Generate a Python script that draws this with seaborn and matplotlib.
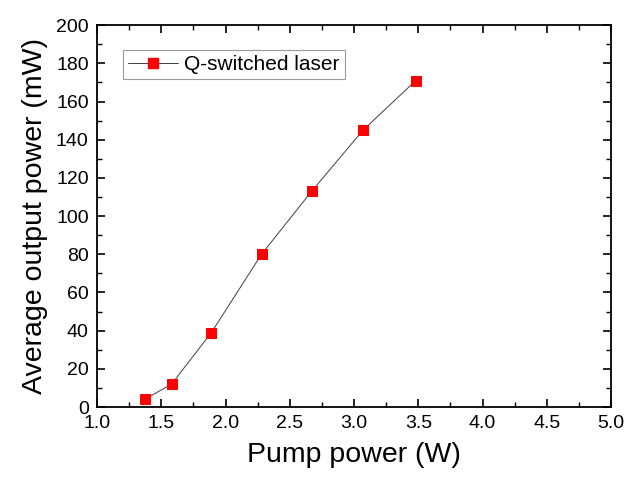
import matplotlib
matplotlib.use("Agg")
import matplotlib.pyplot as plt
import seaborn as sns
import pandas as pd
from matplotlib.ticker import MultipleLocator

pump_power = [1.37, 1.58, 1.89, 2.28, 2.67, 3.07, 3.48]
output_power = [4, 12, 39, 80, 113, 145, 171]
series_name = "Q-switched laser"

df = pd.DataFrame({"x": pump_power, "y": output_power, "s": series_name})

sns.set_theme(style="ticks")
plt.rcParams['font.family'] = ['Liberation Sans', 'DejaVu Sans']
plt.rcParams['text.color'] = 'black'
plt.rcParams['axes.labelcolor'] = 'black'

fig = plt.figure(figsize=(6.3, 4.84), dpi=100)
ax = fig.add_axes([0.154, 0.159, 0.816, 0.789])

sns.lineplot(data=df, x="x", y="y", hue="s", palette=["#404040"], ax=ax,
             linewidth=0.7, marker="s", markersize=6.5, markerfacecolor="#ff0000",
             markeredgecolor="#ff0000", legend=False)
h, = ax.plot([], [], color="#404040", lw=0.7, marker="s", markersize=6.5,
             markerfacecolor="#ff0000", markeredgecolor="#ff0000", label=series_name)

ax.set_xlim(1.0, 5.0)
ax.set_ylim(0, 200)
ax.xaxis.set_major_locator(MultipleLocator(0.5))
ax.xaxis.set_minor_locator(MultipleLocator(0.25))
ax.yaxis.set_major_locator(MultipleLocator(20))
ax.yaxis.set_minor_locator(MultipleLocator(10))
ax.xaxis.set_major_formatter(matplotlib.ticker.FormatStrFormatter('%.1f'))
ax.tick_params(which="both", direction="in", top=True, right=True, color="black")
ax.tick_params(which="major", length=6, width=1.2, labelsize=14, pad=6,
               colors="black", labelcolor="black")
ax.tick_params(which="minor", length=3.5, width=1.0)
for sp in ax.spines.values():
    sp.set_linewidth(1.3)
    sp.set_color("black")

ax.set_xlabel("Pump power (W)", fontsize=20.5, labelpad=7, color="black")
ax.set_ylabel("Average output power (mW)", fontsize=20.5, labelpad=6, color="black")

leg = ax.legend(handles=[h], loc="upper left", bbox_to_anchor=(0.05, 0.935),
                borderaxespad=0, fontsize=15, frameon=True, fancybox=False,
                edgecolor="#808080", handlelength=2.4, borderpad=0.25,
                handletextpad=0.3)
leg.get_frame().set_linewidth(0.8)

fig.savefig("out.png", dpi=100)
